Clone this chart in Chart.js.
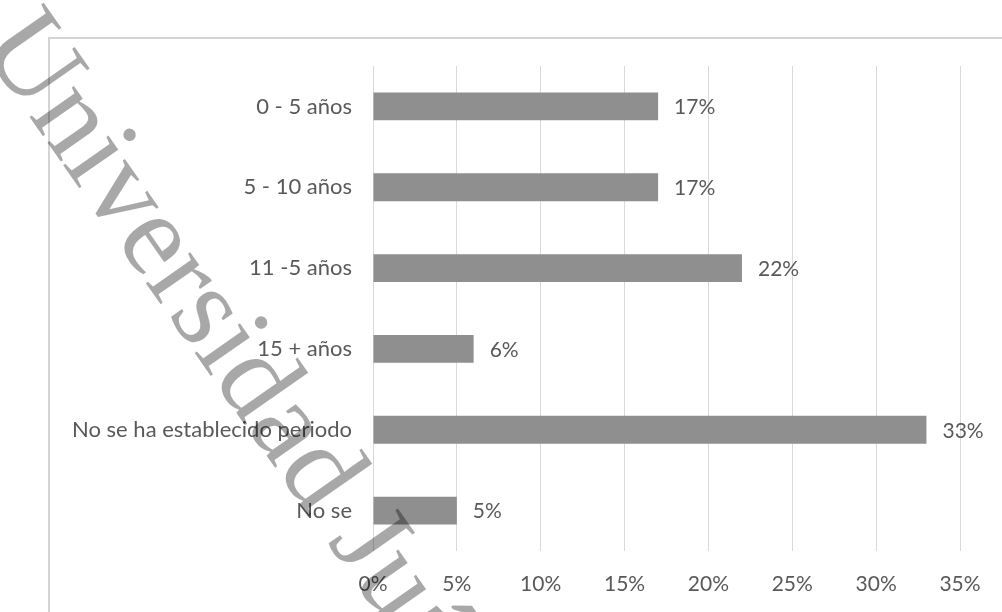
<!DOCTYPE html>
<html>
<head>
<meta charset="utf-8">
<script src="https://cdn.jsdelivr.net/npm/chart.js@4/dist/chart.umd.min.js"></script>
<style>
  html, body { margin: 0; padding: 0; background: #fff; }
  #wrap { width: 1002px; height: 612px; }
</style>
</head>
<body>
<div id="wrap"><canvas id="chart"></canvas></div>
<script>
const categories = ['0 - 5 años', '5 - 10 años', '11 -5 años', '15 + años', 'No se ha establecido periodo', 'No se']
const shares = [17, 17, 22, 6, 33, 5]
const tickStep = 5
const axisMax = 35
const watermark = 'Universidad Juárez Autónoma de Tabasco'

const textColor = '#595959'
const fontFamily = 'Lato, Carlito, "Liberation Sans", sans-serif'

// outer frame like the Excel chart area
const framePlugin = {
  id: 'frame',
  beforeDraw(chart) {
    const ctx = chart.ctx
    ctx.save()
    ctx.strokeStyle = '#d4d4d4'
    ctx.lineWidth = 2
    ctx.strokeRect(49, 38, 1100, 700)
    ctx.restore()
  }
}

// percentage next to each bar
const valueLabels = {
  id: 'valueLabels',
  afterDatasetsDraw(chart) {
    const ctx = chart.ctx
    const meta = chart.getDatasetMeta(0)
    ctx.save()
    ctx.font = '21px ' + fontFamily
    ctx.fillStyle = textColor
    ctx.textAlign = 'left'
    ctx.textBaseline = 'middle'
    meta.data.forEach((bar, i) => {
      ctx.fillText(shares[i] + '%', bar.x + 16, bar.y + 1)
    })
    ctx.restore()
  }
}

// diagonal watermark on top of everything
const watermarkPlugin = {
  id: 'watermark',
  afterDraw(chart) {
    const ctx = chart.ctx
    ctx.save()
    ctx.translate(-21, 45)
    ctx.rotate(55 * Math.PI / 180)
    ctx.font = '118px "Liberation Serif", "Times New Roman", serif'
    ctx.fillStyle = 'rgba(0, 0, 0, 0.34)'
    ctx.textBaseline = 'alphabetic'
    ctx.fillText(watermark, 0, 0)
    ctx.restore()
  }
}

new Chart(document.getElementById('chart'), {
  type: 'bar',
  data: {
    labels: categories,
    datasets: [{
      data: shares,
      backgroundColor: '#8f8f8f',
      categoryPercentage: 1,
      barPercentage: 0.345
    }]
  },
  options: {
    indexAxis: 'y',
    responsive: true,
    maintainAspectRatio: false,
    animation: false,
    layout: { padding: { top: 66, right: 42, bottom: 0, left: 0 } },
    plugins: {
      legend: { display: false },
      tooltip: { enabled: false }
    },
    scales: {
      x: {
        min: 0,
        max: axisMax,
        border: { display: false },
        grid: { color: '#d9d9d9', lineWidth: 1, drawTicks: false },
        ticks: {
          stepSize: tickStep,
          padding: 21,
          color: textColor,
          font: { family: fontFamily, size: 21 },
          callback: v => v + '%'
        },
        afterFit(axis) { axis.height = 61 }
      },
      y: {
        border: { display: false },
        grid: { display: false, drawTicks: false },
        ticks: {
          padding: 21,
          color: textColor,
          font: { family: fontFamily, size: 22 }
        },
        afterFit(axis) { axis.width = 373 }
      }
    }
  },
  plugins: [framePlugin, valueLabels, watermarkPlugin]
})
</script>
</body>
</html>
